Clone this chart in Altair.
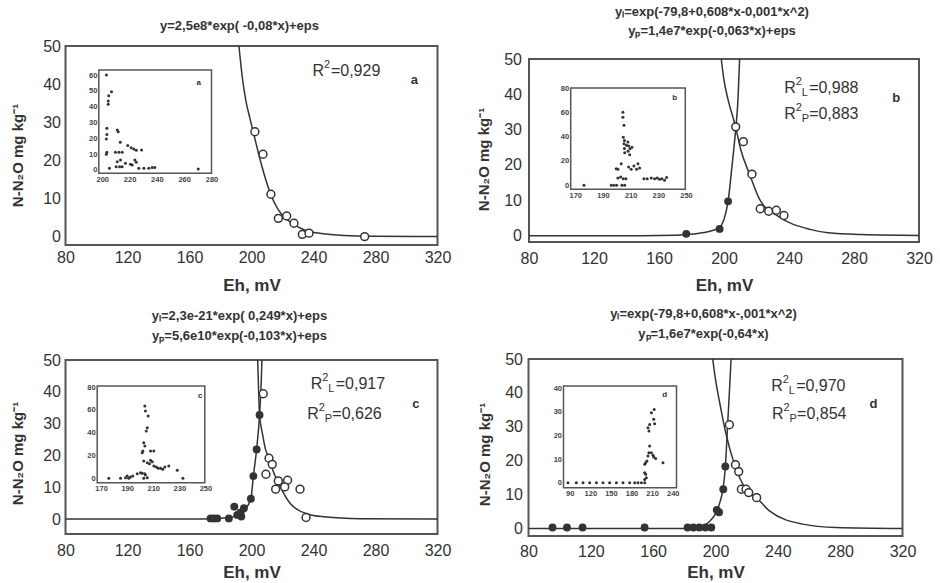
import altair as alt
import pandas as pd

FONT = "Liberation Sans"
INK = "#333333"
FRAME = "#555555"

X_TICKS = [80, 120, 160, 200, 240, 280, 320]
Y_TICKS = [0, 10, 20, 30, 40, 50]
Y_TITLE = "N-N₂O mg kg⁻¹"

# ---------------- panel a ----------------
a_title = "y=2,5e8*exp( -0,08*x)+eps"
a_open_x = [202.2, 207.4, 212.5, 217.3, 222.7, 227.4, 232.8, 237.1, 273.0]
a_open_y = [27.5, 21.6, 11.1, 4.8, 5.4, 3.5, 0.6, 0.9, 0.0]
a_fill_x = []
a_fill_y = []
a_curveP_x = [191.9, 194, 196.2, 199, 202, 206, 212, 217, 222, 228, 235, 245, 260, 280, 320]
a_curveP_y = [50, 42, 36, 31, 26, 19.5, 11.5, 7.2, 4.8, 3.0, 1.6, 0.8, 0.3, 0.1, 0]
a_curveL_x = []
a_curveL_y = []
a_r2 = ["", "=0,929"]
a_r2_pos = [(239.3, 43.4)]
a_ins_x = [203.1, 206.8, 204.8, 204.4, 204.4, 203.4, 203.4, 203.0, 203.4, 203.0, 211.0, 211.7,
           213.2, 209.7, 212.2, 214.6, 218.7, 221.2, 223.1, 224.9, 228.8, 211.0, 213.4, 217.0,
           210.2, 212.7, 214.6, 223.9, 224.9, 220.7, 222.0, 226.8, 230.5, 234.1, 236.6, 238.5,
           205.3, 270.3]
a_ins_y = [60.0, 49.5, 46.9, 43.6, 41.5, 26.3, 22.5, 19.6, 11.2, 9.9, 25.3, 24.2,
           17.5, 11.2, 11.2, 11.2, 15.4, 14.1, 13.3, 12.4, 12.6, 5.2, 6.3, 4.2,
           2.1, 2.1, 2.1, 6.3, 4.9, 3.6, 3.2, 1.1, 1.1, 1.1, 1.5, 1.5,
           1.1, 0.6]

# ---------------- panel b ----------------
b_title = ["yₗ=exp(-79,8+0,608*x-0,001*x^2)", "yₚ=1,4e7*exp(-0,063*x)+eps"]
b_open_x = [207.2, 211.9, 217.2, 222.3, 227.5, 232.2, 236.9]
b_open_y = [30.8, 26.6, 17.4, 7.6, 6.9, 7.2, 5.7]
b_fill_x = [176.8, 197.3, 202.5]
b_fill_y = [0.5, 1.9, 9.7]
b_curveL_x = [80, 150, 170, 177, 185, 190, 194, 197, 200, 202.5, 204.9, 207, 208.6, 209.6]
b_curveL_y = [0, 0, 0.1, 0.3, 0.7, 1.1, 1.6, 2.2, 4.6, 9.7, 19.6, 29.1, 38.5, 50]
b_curveP_x = [198.3, 200, 202.5, 207, 210.3, 215.8, 222, 233.2, 253.7, 264, 285, 320]
b_curveP_y = [50, 44, 38.5, 31, 24.4, 17.3, 10.2, 5.5, 1.7, 0.8, 0.3, 0.05]
b_r2 = ["L", "=0,988", "P", "=0,883"]
b_r2_pos = [(237.0, 41.8), (237.0, 34.3)]
b_ins_x = [176.3, 196.0, 197.9, 199.9, 203.7, 205.7, 200.8, 202.8, 204.7, 206.6, 199.6, 200.8,
           203.2, 204.4, 204.4, 205.2, 204.7, 205.5, 205.2, 207.0, 208.0, 205.5, 208.6, 209.5,
           210.9, 205.7, 208.1, 209.3, 208.6, 210.4, 212.4, 215.3, 216.5, 214.3, 219.6, 222.0,
           224.9, 227.3, 229.2, 230.9, 232.6, 234.5, 236.0]
b_ins_y = [0, 0, 0, 0, 0, 0, 6.0, 6.8, 5.4, 5.4, 13.7, 13.2,
           17.8, 60.0, 56.0, 49.3, 39.6, 36.9, 34.2, 32.9, 35.6, 30.2, 32.3, 30.1,
           31.2, 26.8, 28.0, 25.2, 15.0, 13.2, 15.9, 17.8, 14.2, 13.2, 5.4, 5.4,
           6.0, 5.4, 6.0, 4.9, 5.4, 4.1, 6.5]

# ---------------- panel c ----------------
c_title = ["yₗ=2,3e-21*exp( 0,249*x)+eps", "yₚ=5,6e10*exp(-0,103*x)+eps"]
c_open_x = [207.6, 211.3, 213.4, 209.3, 217.3, 223.3, 221.4, 215.6, 231.3, 235.2]
c_open_y = [39.4, 19.1, 17.2, 14.1, 12.0, 12.2, 10.1, 9.4, 9.4, 0.5]
c_fill_x = [173.6, 175.7, 177.9, 185.4, 188.9, 190.8, 193.0, 193.4, 195.1, 199.6, 201.2, 203.3, 205.2]
c_fill_y = [0.2, 0.2, 0.2, 0.2, 3.9, 1.3, 2.1, 0.8, 3.4, 6.4, 13.5, 21.9, 32.7]
c_curveL_x = [80, 160, 175, 185, 190, 195, 199.6, 201.2, 203.3, 205.2, 206.3, 206.7]
c_curveL_y = [0, 0, 0.1, 0.5, 1.0, 2.6, 6.4, 13.5, 21.9, 32.7, 43.4, 50]
c_curveP_x = [204, 204.4, 205.2, 207, 209, 211.3, 214, 218.8, 225.3, 236, 246.8, 270, 320]
c_curveP_y = [50, 43.4, 32.7, 27, 22, 19.1, 15, 9.9, 4.7, 1.6, 0.7, 0.1, 0]
c_r2 = ["L", "=0,917", "P", "=0,626"]
c_r2_pos = [(238.2, 42.3), (236.0, 33.1)]
c_ins_x = [175.9, 184.9, 188.7, 190.0, 191.2, 192.5, 194.3, 197.7, 200.2, 201.5, 203.5, 204.0,
           205.4, 202.7, 203.5, 204.0, 206.1, 205.4, 204.6, 202.7, 203.5, 202.0, 201.5, 207.9,
           210.4, 202.7, 205.4, 207.1, 207.9, 209.2, 210.4, 212.3, 213.8, 215.6, 217.3, 218.9,
           221.9, 228.4, 232.7]
c_ins_y = [0, 0, 0.5, 2.0, 0, 1.1, 2.0, 4.0, 4.9, 4.4, 4.0, 2.9,
           0.5, 0, 63.4, 59.0, 54.6, 44.3, 41.5, 31.2, 28.3, 23.9, 22.4, 23.9,
           23.9, 15.2, 13.7, 12.8, 15.8, 14.5, 10.8, 9.9, 8.8, 8.8, 7.9, 9.9,
           10.8, 7.0, 0]

# ---------------- panel d ----------------
d_title = ["yₗ=exp(-79,8+0,608*x-,001*x^2)", "yₚ=1,6e7*exp(-0,64*x)"]
d_open_x = [208.9, 212.8, 214.9, 216.6, 219.6, 221.3, 226.4]
d_open_y = [30.6, 18.8, 16.8, 11.6, 11.6, 10.6, 9.1]
d_fill_x = [95.4, 104.7, 114.7, 154.5, 182.1, 185.8, 189.6, 193.5, 197.3, 200.8, 202.3, 205.0, 206.3]
d_fill_y = [0.3, 0.3, 0.3, 0.3, 0.3, 0.3, 0.3, 0.3, 0.3, 5.5, 4.8, 11.6, 18.3]
d_curveL_x = [80, 180, 188, 192, 196, 200.4, 203, 204.6, 206.3, 207.8, 209, 210]
d_curveL_y = [0, 0, 0.2, 0.8, 2, 4.7, 8, 11.1, 18, 30.8, 41, 50]
d_curveP_x = [198.2, 200, 202.5, 206.8, 212.1, 219.6, 226.4, 234.6, 256, 277.4, 320]
d_curveP_y = [50, 44, 37.6, 27.8, 19, 11.6, 9.1, 5.2, 1.3, 0.3, 0]
d_r2 = ["L", "=0,970", "P", "=0,854"]
d_r2_pos = [(235.7, 42.1), (236.3, 33.9)]
d_ins_x = [87.5, 99.7, 109.4, 119.1, 128.9, 138.5, 148.2, 158.0, 167.6, 177.3, 184.6, 189.4,
           194.4, 199.2, 199.2, 201.6, 200.6, 199.2, 200.6, 202.5, 199.2, 203.9, 205.3, 206.4,
           208.9, 211.3, 215.2, 212.3, 225.8, 204.0, 205.4, 206.4, 209.0, 213.0, 212.3, 213.7]
d_ins_y = [0, 0, 0, 0, 0, 0, 0, 0, 0, 0, 0, 0,
           0, 0, 1.4, 2.1, 3.6, 4.2, 8.5, 9.2, 7.8, 11.3, 12.7, 15.6,
           12.7, 11.7, 10.3, 10.9, 8.5, 23.3, 21.9, 24.7, 29.7, 31.0, 26.9, 25.0]

# panel letters (main plot and inset)
letters = ["a", "b", "c", "d"]
letter_pos = [(305.0, 41.0), (306.0, 39.0), (306.0, 36.2), (301.4, 36.7)]
ins_letter_pos = [(270.7, 54.8), (241.8, 71.8), (246.0, 72.0), (228.3, 37.2)]

# inset axes
ins_xdom = [[197.5, 280], [166.7, 249.5], [167, 249.5], [81, 245.5]]
ins_ydom = [[-2.1, 63.2], [-3.3, 80], [-3.8, 80.9], [-2.1, 41]]
ins_xticks = [[200, 220, 240, 260, 280], [170, 190, 210, 230, 250],
              [170, 190, 210, 230, 250], [90, 120, 150, 180, 210, 240]]
ins_yticks = [[0, 10, 20, 30, 40, 50, 60], [0, 20, 40, 60, 80],
              [0, 20, 40, 60, 80], [0, 10, 20, 30, 40]]

# layout (pixels): cell size, frame top/bottom inside cell, inset box inside cell
LAYOUT = {
    "a": dict(W=372, H=199, ft=0, fb=199, ydom=[-2.2, 50], ylp=5, ytp=17.5, xlp=4, xtp=12,
              lh=19, off=5, tY=109, ins=(33.3, 146, 24, 127.3)),
    "b": dict(W=390, H=199, ft=13, fb=196, ydom=[-1.8, 50], ylp=7.5, ytp=12, xlp=8.5, xtp=11,
              lh=19, off=8, tY=113, ins=(41.7, 156.3, 42, 143.3)),
    "c": dict(W=372, H=177, ft=1, fb=175, ydom=[-4.7, 50], ylp=5, ytp=17.5, xlp=8, xtp=6,
              lh=20, off=9, tY=94, ins=(31.7, 139.3, 27, 123.7)),
    "d": dict(W=374, H=177, ft=0, fb=177, ydom=[-2.2, 50], ylp=6, ytp=12.5, xlp=7, xtp=5.5,
              lh=20, off=10, tY=95, ins=(35, 148, 27, 128.7)),
}


def build(i, key, title, ox, oy, fx, fy, lx, ly, px, py, r2, r2pos, insx, insy):
    L = LAYOUT[key]
    W, H, ft, fb = L["W"], L["H"], L["ft"], L["fb"]
    X = alt.X("x:Q", scale=alt.Scale(domain=[80, 320], nice=False, zero=False),
              axis=alt.Axis(values=X_TICKS, title="Eh, mV", labelPadding=L["xlp"],
                            titlePadding=L["xtp"], labelFlush=False, offset=fb - H,
                            titleFontSize=17))
    Y = alt.Y("y:Q", scale=alt.Scale(domain=L["ydom"], range=[fb, ft], nice=False, zero=False),
              axis=alt.Axis(values=Y_TICKS, title=Y_TITLE, labelPadding=L["ylp"],
                            titlePadding=L["ytp"], labelFlush=False, titleFontSize=15,
                            titleY=L["tY"]))

    frame_df = pd.DataFrame({"x": [80], "x2": [320], "y": [L["ydom"][0]], "y2": [L["ydom"][1]]})
    layers = [alt.Chart(frame_df).mark_rect(fillOpacity=0, stroke=FRAME, strokeWidth=2).encode(
        x=X, x2="x2:Q", y=Y, y2="y2:Q")]

    cdf = pd.concat([pd.DataFrame({"x": lx, "y": ly, "c": "L"}),
                     pd.DataFrame({"x": px, "y": py, "c": "P"})], ignore_index=True)
    layers.append(alt.Chart(cdf).mark_line(clip=True, interpolate="monotone", color=INK,
                                           strokeWidth=1.5).encode(x=X, y=Y, detail="c:N"))
    if fx:
        layers.append(alt.Chart(pd.DataFrame({"x": fx, "y": fy})).mark_point(
            shape="circle", filled=True, size=62, color=INK, opacity=1).encode(x=X, y=Y))
    layers.append(alt.Chart(pd.DataFrame({"x": ox, "y": oy})).mark_point(
        shape="circle", filled=True, size=62, fill="white", stroke=INK, strokeWidth=1.5,
        opacity=1).encode(x=X, y=Y))

    rdf = pd.DataFrame({"x": [p[0] for p in r2pos], "y": [p[1] for p in r2pos],
                        "sub": r2[0::2], "val": r2[1::2]})
    has_sub = any(s for s in r2[0::2])
    base = alt.Chart(rdf)
    layers += [
        base.mark_text(text="R", align="left", baseline="middle", fontSize=16, font=FONT,
                       color=INK).encode(x=X, y=Y),
        base.mark_text(text="2", align="left", baseline="middle", fontSize=11, font=FONT,
                       color=INK, dx=11.5, dy=-6).encode(x=X, y=Y),
        base.mark_text(align="left", baseline="middle", fontSize=11, font=FONT,
                       color=INK, dx=17.5, dy=5).encode(x=X, y=Y, text="sub:N"),
        base.mark_text(align="left", baseline="middle", fontSize=16, font=FONT, color=INK,
                       dx=25 if has_sub else 18.5).encode(x=X, y=Y, text="val:N"),
    ]
    lp = letter_pos[i]
    layers.append(alt.Chart(pd.DataFrame({"x": [lp[0]], "y": [lp[1]], "t": [letters[i]]}))
                  .mark_text(fontSize=13, fontWeight="bold", font=FONT, color=INK)
                  .encode(x=X, y=Y, text="t:N"))
    main = alt.layer(*layers)

    il, ir, it, ib = L["ins"]
    IX = alt.X("ix:Q", scale=alt.Scale(domain=ins_xdom[i], range=[il, ir], nice=False, zero=False),
               axis=alt.Axis(orient="bottom", offset=ib - H, values=ins_xticks[i], title=None,
                             labelFontSize=7.5, labelFontWeight="bold", labelPadding=2,
                             labelFlush=False, labelColor="#444444"))
    IY = alt.Y("iy:Q", scale=alt.Scale(domain=ins_ydom[i], range=[ib, it], nice=False, zero=False),
               axis=alt.Axis(orient="left", offset=-il, values=ins_yticks[i], title=None,
                             labelFontSize=7.5, labelFontWeight="bold", labelPadding=2,
                             labelFlush=False, labelColor="#444444"))
    fdf = pd.DataFrame({"ix": [ins_xdom[i][0]], "ix2": [ins_xdom[i][1]],
                        "iy": [ins_ydom[i][0]], "iy2": [ins_ydom[i][1]]})
    frame = alt.Chart(fdf).mark_rect(fill="white", stroke=FRAME, strokeWidth=1.5).encode(
        x=IX, x2="ix2:Q", y=IY, y2="iy2:Q")
    pts = alt.Chart(pd.DataFrame({"ix": insx, "iy": insy})).mark_circle(
        size=9, color=INK, opacity=1).encode(x=IX, y=IY)
    ilp = ins_letter_pos[i]
    ilab = alt.Chart(pd.DataFrame({"ix": [ilp[0]], "iy": [ilp[1]], "t": [letters[i]]})).mark_text(
        fontSize=8, fontWeight="bold", font=FONT, color=INK).encode(x=IX, y=IY, text="t:N")
    inset = alt.layer(frame, pts, ilab)

    return alt.layer(main, inset).resolve_scale(x="independent", y="independent").properties(
        width=W, height=H,
        title=alt.Title(text=title, fontSize=13, fontWeight="bold", font=FONT, color=INK,
                        lineHeight=L["lh"], offset=L["off"], dx=-12, anchor="middle"))


pa = build(0, "a", a_title, a_open_x, a_open_y, a_fill_x, a_fill_y, a_curveL_x, a_curveL_y,
           a_curveP_x, a_curveP_y, a_r2, a_r2_pos, a_ins_x, a_ins_y)
pb = build(1, "b", b_title, b_open_x, b_open_y, b_fill_x, b_fill_y, b_curveL_x, b_curveL_y,
           b_curveP_x, b_curveP_y, b_r2, b_r2_pos, b_ins_x, b_ins_y)
pc = build(2, "c", c_title, c_open_x, c_open_y, c_fill_x, c_fill_y, c_curveL_x, c_curveL_y,
           c_curveP_x, c_curveP_y, c_r2, c_r2_pos, c_ins_x, c_ins_y)
pd_ = build(3, "d", d_title, d_open_x, d_open_y, d_fill_x, d_fill_y, d_curveL_x, d_curveL_y,
            d_curveP_x, d_curveP_y, d_r2, d_r2_pos, d_ins_x, d_ins_y)

chart = alt.vconcat(
    alt.hconcat(pa, pb, spacing=24.5),
    alt.hconcat(pc, pd_, spacing=25),
    spacing=14,
).properties(
    padding={"left": 9.5, "top": 6, "right": 4, "bottom": 2},
    background="white",
).configure_view(
    strokeWidth=0
).configure_axis(
    grid=False, domain=False, ticks=False,
    labelFont=FONT, titleFont=FONT, labelColor=INK, titleColor=INK,
    labelFontSize=16, titleFontWeight="bold",
)

chart.save("out.html", embed_options={"renderer": "svg", "actions": False})
